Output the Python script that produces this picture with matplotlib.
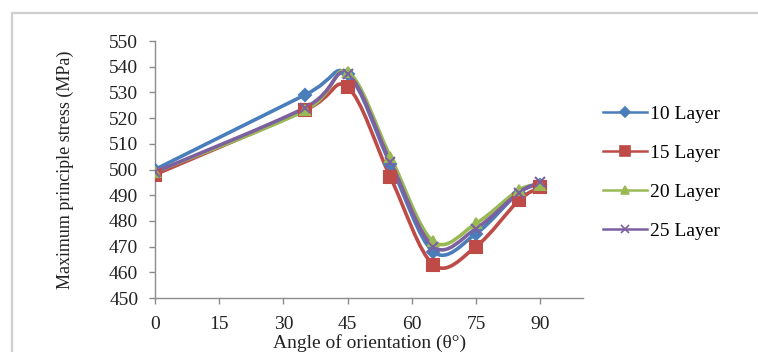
import matplotlib
matplotlib.use("Agg")
import matplotlib.pyplot as plt
import numpy as np
from matplotlib.path import Path
from matplotlib.patches import PathPatch, Rectangle
from matplotlib.lines import Line2D

plt.rcParams['font.family'] = ['Liberation Serif', 'DejaVu Serif']

angles = [0, 35, 45, 55, 65, 75, 85, 90]
layer10 = [500, 529, 537, 502, 468, 475, 491, 494]
layer15 = [498, 523, 532, 497, 463, 470, 488, 493]
layer20 = [499, 523, 538, 505, 472, 479, 492, 494]
layer25 = [499, 524, 537, 503, 470, 477, 491, 495]

labels = ["10 Layer", "15 Layer", "20 Layer", "25 Layer"]
colors = ["#4A7EBB", "#BE4B48", "#98B954", "#7D60A0"]
markers = ["D", "s", "^", "x"]
msizes = [6, 8, 7, 7]


def smooth_path(x, y):
    # Catmull-Rom spline turned into cubic bezier segments
    pts = np.column_stack([x, y]).astype(float)
    n = len(pts)
    verts = [pts[0]]
    codes = [Path.MOVETO]
    for i in range(n - 1):
        p0 = pts[max(i - 1, 0)]
        p1 = pts[i]
        p2 = pts[i + 1]
        p3 = pts[min(i + 2, n - 1)]
        c1 = p1 + (p2 - p0) / 6.0
        c2 = p2 - (p3 - p1) / 6.0
        verts += [c1, c2, p2]
        codes += [Path.CURVE4] * 3
    return Path(verts, codes)


fig = plt.figure(figsize=(7.58, 3.52), dpi=100)
ax = fig.add_axes([0.2045, 0.1534, 0.5646, 0.7301])

series = [layer10, layer15, layer20, layer25]
handles = []
for vals, lab, c, m, ms in zip(series, labels, colors, markers, msizes):
    ax.add_patch(PathPatch(smooth_path(angles, vals), facecolor="none",
                           edgecolor=c, lw=2.6, zorder=2))
    ax.plot(angles, vals, linestyle="none", marker=m, color=c, ms=ms,
            mew=1.5, zorder=3)
    handles.append(Line2D([], [], color=c, lw=1.8, marker=m, ms=ms - 1, mew=1.2))

ax.set_xlim(0, 100)
ax.set_ylim(450, 550)
ax.set_xticks(range(0, 91, 15))
ax.set_yticks(range(450, 551, 10))
for s in ["top", "right"]:
    ax.spines[s].set_visible(False)
for s in ["left", "bottom"]:
    ax.spines[s].set_color("#8c8c8c")
    ax.spines[s].set_linewidth(1.0)
ax.tick_params(axis="both", colors="#8c8c8c", length=4, width=1,
               labelsize=14, labelcolor="#222222")
ax.tick_params(axis="x", pad=9)
ax.tick_params(axis="y", pad=8)

fig.text(0.086, 0.517, "Maximum principle stress (MPa)", rotation=90,
         ha="center", va="center", fontsize=13, color="#222222")
fig.text(0.488, 0.025, "Angle of orientation (\u03b8\u00b0)", ha="center",
         va="center", fontsize=14, color="#222222")

fig.legend(handles, labels, loc="upper left", bbox_to_anchor=(0.772, 0.75),
           frameon=False, fontsize=14, handlelength=2.3, labelspacing=1.1,
           handletextpad=0.15)

# outer chart frame
fig.patches.append(Rectangle((12 / 758, -0.05), 1.0, 1 - 13 / 352 + 0.05,
                             transform=fig.transFigure, fill=False,
                             edgecolor="#cfcfcf", lw=1.6))

fig.savefig("out.png", dpi=100)
